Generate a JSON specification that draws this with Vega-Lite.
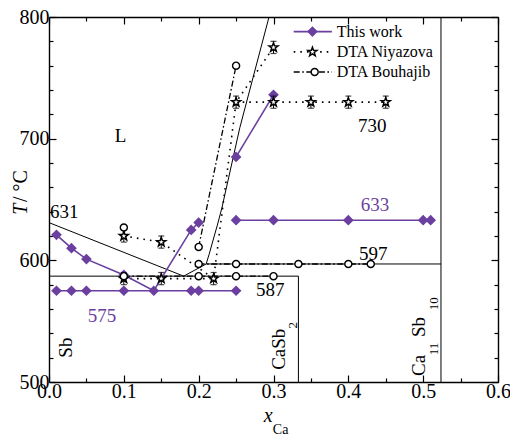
{
  "$schema": "https://vega.github.io/schema/vega-lite/v6.json",
  "width": 449,
  "height": 365,
  "autosize": {"type": "none"},
  "padding": {"left": 49, "top": 17, "right": 12, "bottom": 55},
  "background": "white",
  "config": {
    "view": {"stroke": null},
    "font": "Liberation Serif",
    "style": {"guide-label": {"font": "Liberation Serif", "fontWeight": "normal"}},
    "axis": {
      "domainColor": "black", "domainWidth": 1.4, "tickColor": "black", "tickWidth": 1.2,
      "labelFont": "Liberation Serif", "labelFontWeight": "normal", "labelFontSize": 20, "labelColor": "black",
      "grid": false, "labelOverlap": false, "labelFlush": false
    }
  },
  "datasets": {
    "lines": [
      {"s":"model","g":"1","o":1,"x":0,"y":631},
      {"s":"model","g":"1","o":2,"x":0.18,"y":587},
      {"s":"model","g":"1","o":3,"x":0.21,"y":597},
      {"s":"model","g":"1","o":4,"x":0.214,"y":605},
      {"s":"model","g":"1","o":5,"x":0.219,"y":616},
      {"s":"model","g":"1","o":6,"x":0.225,"y":629},
      {"s":"model","g":"1","o":7,"x":0.231,"y":643},
      {"s":"model","g":"1","o":8,"x":0.255,"y":709},
      {"s":"model","g":"1","o":9,"x":0.294,"y":800},
      {"s":"model","g":"2","o":1,"x":0,"y":587},
      {"s":"model","g":"2","o":2,"x":0.3333,"y":587},
      {"s":"model","g":"3","o":1,"x":0.21,"y":597},
      {"s":"model","g":"3","o":2,"x":0.5238,"y":597},
      {"s":"model","g":"4","o":1,"x":0.3333,"y":500},
      {"s":"model","g":"4","o":2,"x":0.3333,"y":587},
      {"s":"model","g":"5","o":1,"x":0.5238,"y":500},
      {"s":"model","g":"5","o":2,"x":0.5238,"y":800},
      {"s":"this","g":"1","o":1,"x":0.01,"y":621},
      {"s":"this","g":"1","o":2,"x":0.03,"y":610},
      {"s":"this","g":"1","o":3,"x":0.05,"y":601},
      {"s":"this","g":"1","o":4,"x":0.10,"y":588},
      {"s":"this","g":"1","o":5,"x":0.14,"y":575},
      {"s":"this","g":"1","o":6,"x":0.19,"y":625},
      {"s":"this","g":"1","o":7,"x":0.20,"y":631},
      {"s":"this","g":"2","o":1,"x":0.25,"y":685},
      {"s":"this","g":"2","o":2,"x":0.30,"y":736},
      {"s":"this","g":"3","o":1,"x":0.01,"y":575},
      {"s":"this","g":"3","o":2,"x":0.25,"y":575},
      {"s":"this","g":"4","o":1,"x":0.25,"y":633},
      {"s":"this","g":"4","o":2,"x":0.51,"y":633},
      {"s":"this","g":"L","o":1,"x":0.327,"y":788},
      {"s":"this","g":"L","o":2,"x":0.378,"y":788},
      {"s":"niy","g":"1","o":1,"x":0.10,"y":620},
      {"s":"niy","g":"1","o":2,"x":0.15,"y":615},
      {"s":"niy","g":"1","o":3,"x":0.22,"y":585},
      {"s":"niy","g":"1","o":4,"x":0.25,"y":730},
      {"s":"niy","g":"1","o":5,"x":0.30,"y":775},
      {"s":"niy","g":"2","o":1,"x":0.10,"y":585},
      {"s":"niy","g":"2","o":2,"x":0.22,"y":585},
      {"s":"niy","g":"3","o":1,"x":0.25,"y":730},
      {"s":"niy","g":"3","o":2,"x":0.45,"y":730},
      {"s":"niy","g":"L","o":1,"x":0.327,"y":771.3},
      {"s":"niy","g":"L","o":2,"x":0.378,"y":771.3},
      {"s":"bou","g":"1","o":1,"x":0.20,"y":611},
      {"s":"bou","g":"1","o":2,"x":0.25,"y":760},
      {"s":"bou","g":"2","o":1,"x":0.10,"y":587},
      {"s":"bou","g":"2","o":2,"x":0.30,"y":587},
      {"s":"bou","g":"3","o":1,"x":0.20,"y":597},
      {"s":"bou","g":"3","o":2,"x":0.43,"y":597},
      {"s":"bou","g":"L","o":1,"x":0.327,"y":754.8},
      {"s":"bou","g":"L","o":2,"x":0.378,"y":754.8}
    ],
    "pts": [
      {"s":"this","x":0.01,"y":621},{"s":"this","x":0.03,"y":610},{"s":"this","x":0.05,"y":601},
      {"s":"this","x":0.10,"y":588},{"s":"this","x":0.14,"y":575},{"s":"this","x":0.19,"y":625},
      {"s":"this","x":0.20,"y":631},{"s":"this","x":0.25,"y":685},{"s":"this","x":0.30,"y":736},
      {"s":"this","x":0.01,"y":575},{"s":"this","x":0.03,"y":575},{"s":"this","x":0.05,"y":575},
      {"s":"this","x":0.10,"y":575},{"s":"this","x":0.19,"y":575},{"s":"this","x":0.20,"y":575},
      {"s":"this","x":0.25,"y":575},{"s":"this","x":0.25,"y":633},{"s":"this","x":0.30,"y":633},
      {"s":"this","x":0.40,"y":633},{"s":"this","x":0.50,"y":633},{"s":"this","x":0.51,"y":633},
      {"s":"niy","x":0.10,"y":620,"e":5},{"s":"niy","x":0.15,"y":615,"e":5},{"s":"niy","x":0.10,"y":585,"e":5},
      {"s":"niy","x":0.15,"y":585,"e":5},{"s":"niy","x":0.22,"y":585,"e":5},{"s":"niy","x":0.25,"y":730,"e":5},
      {"s":"niy","x":0.30,"y":730,"e":5},{"s":"niy","x":0.35,"y":730,"e":5},{"s":"niy","x":0.40,"y":730,"e":5},
      {"s":"niy","x":0.45,"y":730,"e":5},{"s":"niy","x":0.30,"y":775,"e":5},
      {"s":"bou","x":0.10,"y":627},{"s":"bou","x":0.10,"y":587},{"s":"bou","x":0.20,"y":611},
      {"s":"bou","x":0.20,"y":597},{"s":"bou","x":0.20,"y":587},{"s":"bou","x":0.25,"y":760},
      {"s":"bou","x":0.25,"y":597},{"s":"bou","x":0.25,"y":587},{"s":"bou","x":0.30,"y":587},
      {"s":"bou","x":0.3333,"y":597},{"s":"bou","x":0.40,"y":597},{"s":"bou","x":0.43,"y":597}
    ],
    "legm": [
      {"s":"this","x":0.352,"y":788},
      {"s":"niy","x":0.352,"y":771.3},
      {"s":"bou","x":0.355,"y":754.8}
    ],
    "legt": [
      {"t":"This work","x":0.3846,"y":783.3},
      {"t":"DTA Niyazova","x":0.3846,"y":767.1},
      {"t":"DTA Bouhajib","x":0.3846,"y":750.6}
    ],
    "labL": [{"t":"631","x":0.0013,"y":634.7}],
    "labC": [
      {"t":"L","x":0.0956,"y":697.5},
      {"t":"587","x":0.2955,"y":570.7},
      {"t":"597","x":0.4332,"y":600.3},
      {"t":"730","x":0.4318,"y":705.7}
    ],
    "labP": [
      {"t":"575","x":0.0709,"y":549.6},
      {"t":"633","x":0.4358,"y":640.8}
    ],
    "rot": [
      {"t":"Sb","x":0.0307,"y":520},
      {"t":"CaSb","x":0.3155,"y":510},
      {"t":"Ca","x":0.5027,"y":505},
      {"t":"Sb","x":0.5027,"y":537}
    ],
    "rotsub": [
      {"t":"2","x":0.3316,"y":544},
      {"t":"11","x":0.5194,"y":522},
      {"t":"10","x":0.5194,"y":559}
    ],
    "ttlIt": [
      {"t":"x","x":0.2928,"y":467}
    ],
    "ttlSub": [
      {"t":"Ca","x":0.3095,"y":457}
    ],
    "ttlYT": [{"t":"T","x":-0.0294,"y":642}],
    "ttlYU": [{"t":"/ °C","x":-0.0294,"y":661}]
  },
  "encoding": {
    "x": {"field":"x","type":"quantitative","scale":{"domain":[0,0.6],"nice":false,"zero":false},"axis":null},
    "y": {"field":"y","type":"quantitative","scale":{"domain":[500,800],"nice":false,"zero":false},"axis":null}
  },
  "layer": [
    {
      "data": {"name":"lines"},
      "transform": [{"filter":"datum.s == 'model'"}],
      "mark": {"type":"line","color":"black","strokeWidth":1},
      "encoding": {
        "x": {"field":"x","type":"quantitative","scale":{"domain":[0,0.6],"nice":false,"zero":false},
          "axis":{"orient":"bottom","title":null,"values":[0,0.05,0.1,0.15,0.2,0.25,0.3,0.35,0.4,0.45,0.5,0.55,0.6],
            "labelExpr":"round(datum.value*20)%2==0 ? format(datum.value,'.1f') : ''",
            "labelFont":"Liberation Serif","labelFontWeight":"normal","labelFontSize":20,
            "tickSize":{"condition":{"test":"round(datum.value*20)%2==0","value":-7},"value":-4},
            "labelPadding":6}},
        "y": {"field":"y","type":"quantitative","scale":{"domain":[500,800],"nice":false,"zero":false},
          "axis":{"orient":"left","title":null,"values":[500,520,540,560,580,600,620,640,660,680,700,720,740,760,780,800],
            "labelExpr":"datum.value%100==0 ? datum.label : ''",
            "labelFont":"Liberation Serif","labelFontWeight":"normal","labelFontSize":20,
            "tickSize":{"condition":{"test":"datum.value%100==0","value":-7},"value":-4},
            "labelPadding":7}},
        "detail": {"field":"g"},
        "order": {"field":"o"}
      }
    },
    {
      "data": {"name":"lines"},
      "transform": [{"filter":"datum.s == 'niy'"}],
      "mark": {"type":"line","color":"black","strokeWidth":1.6,"strokeDash":[1.6,5]},
      "encoding": {
        "x": {"field":"x","type":"quantitative","scale":{"domain":[0,0.6],"nice":false,"zero":false},
          "axis":{"orient":"top","title":null,"labels":false,"values":[0,0.05,0.1,0.15,0.2,0.25,0.3,0.35,0.4,0.45,0.5,0.55,0.6],
            "tickSize":{"condition":{"test":"round(datum.value*20)%2==0","value":-7},"value":-4}}},
        "y": {"field":"y","type":"quantitative","scale":{"domain":[500,800],"nice":false,"zero":false},
          "axis":{"orient":"right","title":null,"labels":false,"values":[500,520,540,560,580,600,620,640,660,680,700,720,740,760,780,800],
            "tickSize":{"condition":{"test":"datum.value%100==0","value":-7},"value":-4}}},
        "detail": {"field":"g"},
        "order": {"field":"o"}
      }
    },
    {
      "data": {"name":"lines"},
      "transform": [{"filter":"datum.s == 'bou'"}],
      "mark": {"type":"line","color":"black","strokeWidth":1.3,"strokeDash":[6,2.5,1.6,2.5]},
      "encoding": {"detail": {"field":"g"}, "order": {"field":"o"}}
    },
    {
      "data": {"name":"lines"},
      "transform": [{"filter":"datum.s == 'this'"}],
      "mark": {"type":"line","color":"#6b3fa0","strokeWidth":1.6},
      "encoding": {"detail": {"field":"g"}, "order": {"field":"o"}}
    },
    {
      "data": {"name":"pts"},
      "transform": [{"filter":"datum.s == 'this'"}],
      "mark": {"type":"point","shape":"diamond","filled":true,"color":"#6b3fa0","size":115,"opacity":1}
    },
    {
      "data": {"name":"pts"},
      "transform": [{"filter":"datum.s == 'niy'"}],
      "mark": {"type":"errorbar","color":"black","thickness":1,"ticks":{"size":6,"thickness":1.2,"color":"black"}},
      "encoding": {
        "y": {"field":"y","type":"quantitative","scale":{"domain":[500,800],"nice":false,"zero":false}},
        "yError": {"field":"e"}
      }
    },
    {
      "data": {"name":"pts"},
      "transform": [{"filter":"datum.s == 'niy'"}],
      "mark": {"type":"point","shape":"M0,-1L0.235,-0.324L0.951,-0.309L0.38,0.124L0.588,0.809L0,0.4L-0.588,0.809L-0.38,0.124L-0.951,-0.309L-0.235,-0.324Z","filled":false,"fill":"white","stroke":"black","strokeWidth":1.5,"size":90,"opacity":1}
    },
    {
      "data": {"name":"pts"},
      "transform": [{"filter":"datum.s == 'bou'"}],
      "mark": {"type":"point","shape":"circle","filled":false,"fill":"white","stroke":"black","strokeWidth":1.4,"size":50,"opacity":1}
    },
    {
      "data": {"name":"legm"},
      "transform": [{"filter":"datum.s == 'this'"}],
      "mark": {"type":"point","shape":"diamond","filled":true,"color":"#6b3fa0","size":115,"opacity":1}
    },
    {
      "data": {"name":"legm"},
      "transform": [{"filter":"datum.s == 'niy'"}],
      "mark": {"type":"point","shape":"M0,-1L0.235,-0.324L0.951,-0.309L0.38,0.124L0.588,0.809L0,0.4L-0.588,0.809L-0.38,0.124L-0.951,-0.309L-0.235,-0.324Z","filled":false,"fill":"white","stroke":"black","strokeWidth":1.5,"size":90,"opacity":1}
    },
    {
      "data": {"name":"legm"},
      "transform": [{"filter":"datum.s == 'bou'"}],
      "mark": {"type":"point","shape":"circle","filled":false,"fill":"white","stroke":"black","strokeWidth":1.4,"size":50,"opacity":1}
    },
    {
      "data": {"name":"legt"},
      "mark": {"type":"text","font":"Liberation Serif","align":"left","baseline":"alphabetic","fontSize":16,"color":"black"},
      "encoding": {"text": {"field":"t"}}
    },
    {
      "data": {"name":"labL"},
      "mark": {"type":"text","font":"Liberation Serif","align":"left","baseline":"alphabetic","fontSize":19,"color":"black"},
      "encoding": {"text": {"field":"t"}}
    },
    {
      "data": {"name":"labC"},
      "mark": {"type":"text","font":"Liberation Serif","align":"center","baseline":"alphabetic","fontSize":19,"color":"black"},
      "encoding": {"text": {"field":"t"}}
    },
    {
      "data": {"name":"labP"},
      "mark": {"type":"text","font":"Liberation Serif","align":"center","baseline":"alphabetic","fontSize":19,"color":"#6b3fa0"},
      "encoding": {"text": {"field":"t"}}
    },
    {
      "data": {"name":"rot"},
      "mark": {"type":"text","font":"Liberation Serif","angle":270,"align":"left","baseline":"alphabetic","fontSize":19,"color":"black"},
      "encoding": {"text": {"field":"t"}}
    },
    {
      "data": {"name":"rotsub"},
      "mark": {"type":"text","font":"Liberation Serif","angle":270,"align":"left","baseline":"alphabetic","fontSize":13,"color":"black"},
      "encoding": {"text": {"field":"t"}}
    },
    {
      "data": {"name":"ttlIt"},
      "mark": {"type":"text","font":"Liberation Serif","align":"center","baseline":"alphabetic","fontStyle":"italic","fontSize":20,"color":"black"},
      "encoding": {"text": {"field":"t"}}
    },
    {
      "data": {"name":"ttlSub"},
      "mark": {"type":"text","font":"Liberation Serif","align":"center","baseline":"alphabetic","fontSize":14,"color":"black"},
      "encoding": {"text": {"field":"t"}}
    },
    {
      "data": {"name":"ttlYT"},
      "mark": {"type":"text","font":"Liberation Serif","angle":270,"align":"center","baseline":"alphabetic","fontStyle":"italic","fontSize":20,"color":"black"},
      "encoding": {"text": {"field":"t"}}
    },
    {
      "data": {"name":"ttlYU"},
      "mark": {"type":"text","font":"Liberation Serif","angle":270,"align":"center","baseline":"alphabetic","fontSize":20,"color":"black"},
      "encoding": {"text": {"field":"t"}}
    }
  ],
  "resolve": {"axis": {"x":"independent","y":"independent"}}
}
